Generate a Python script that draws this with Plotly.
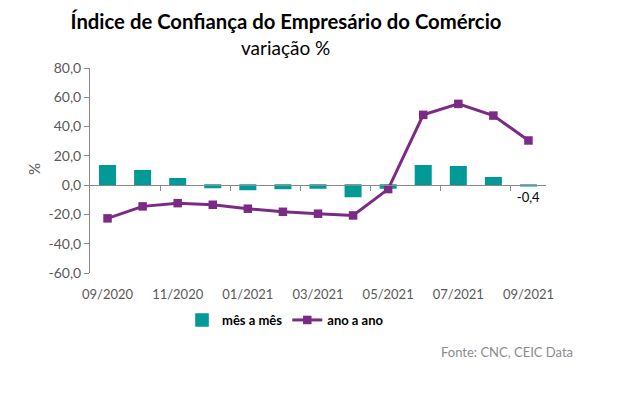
import plotly.graph_objects as go

categories = ["09/2020", "10/2020", "11/2020", "12/2020", "01/2021", "02/2021", "03/2021",
              "04/2021", "05/2021", "06/2021", "07/2021", "08/2021", "09/2021"]
mes_a_mes = [13.2, 9.8, 4.3, -1.6, -3.0, -2.3, -2.0, -7.7, -2.0, 13.2, 12.5, 5.0, -0.4]
ano_a_ano = [-22.7, -14.5, -12.3, -13.4, -16.1, -18.2, -19.5, -20.7, -2.7, 48.0, 55.5, 47.5, 30.5]
bar_labels = ["", "", "", "", "", "", "", "", "", "", "", "", "-0,4"]
y_ticks = [-60, -40, -20, 0, 20, 40, 60, 80]
y_ticktext = ["-60,0", "-40,0", "-20,0", "0,0", "20,0", "40,0", "60,0", "80,0"]

idx = list(range(len(categories)))
FONT = "Lato"
TEAL = "#019A96"
PURPLE = "#7B2B85"
GRAY = "#898989"
LABEL = "#595959"

# the page body adds an 8px offset; compensate so that the plot lands where intended
OFF = 8
PL, PR, PT, PB = 90 - OFF, 546 - OFF, 68 - OFF, 273 - OFF  # plot area in page pixels
W, H = 641, 399
PW, PH = PR - PL, PB - PT


def px(xp):
    return (xp - OFF - PL) / PW


def py(yp):
    return (PB - (yp - OFF)) / PH


fig = go.Figure()
fig.add_trace(go.Bar(
    x=idx, y=mes_a_mes, name="mês a mês", width=0.44,
    marker=dict(color=TEAL, line=dict(color=TEAL, width=1.6)),
    text=bar_labels, textposition="outside", cliponaxis=False, constraintext="none",
    textfont=dict(family=FONT, size=13, color="black"),
))
fig.add_trace(go.Scatter(
    x=idx, y=ano_a_ano, name="ano a ano", mode="lines+markers",
    line=dict(color=PURPLE, width=3),
    marker=dict(symbol="square", size=8.5, color=PURPLE),
))
# helper (invisible) trace so the zero-crossing axis is drawn
fig.add_trace(go.Scatter(x=idx, y=[None] * len(idx), xaxis="x2", showlegend=False,
                         hoverinfo="skip", mode="lines"))

fig.update_layout(
    width=W, height=H,
    margin=dict(l=PL, r=W - PR, t=PT, b=H - PB),
    paper_bgcolor="white", plot_bgcolor="white",
    font=dict(family=FONT, size=13, color=LABEL),
    title=dict(text="<b>Índice de Confiança do Empresário do Comércio</b>",
               x=(286 - OFF) / W, xanchor="center", xref="container",
               y=1 - (22 - OFF) / H, yanchor="middle", yref="container",
               font=dict(family=FONT, size=20.3, color="black")),
    xaxis=dict(range=[-0.5, 12.5], tickmode="array", tickvals=idx[::2],
               ticktext=categories[::2], showline=False, showgrid=False, zeroline=False,
               ticks="outside", ticklen=9, tickcolor="rgba(0,0,0,0)",
               tickfont=dict(family=FONT, size=13, color=LABEL)),
    xaxis2=dict(range=[-0.5, 12.5], overlaying="x", anchor="free", position=60 / 140,
                showline=True, linecolor=GRAY, linewidth=1, showgrid=False, zeroline=False,
                tickmode="array", tickvals=[1.5, 3.5, 5.5, 7.5, 9.5, 11.5],
                ticks="outside", ticklen=5, tickcolor=GRAY, showticklabels=False),
    yaxis=dict(range=[-60, 80], tickmode="array", tickvals=y_ticks, ticktext=y_ticktext,
               showline=True, linecolor=GRAY, linewidth=1, showgrid=False, zeroline=False,
               ticks="outside", ticklen=5, tickcolor=GRAY,
               tickfont=dict(family=FONT, size=14, color=LABEL)),
    legend=dict(orientation="h", x=px(182), y=py(320),
                xanchor="left", yanchor="middle", itemwidth=30,
                font=dict(family=FONT, size=13, color="black", weight="bold"),
                bgcolor="rgba(0,0,0,0)"),
    showlegend=True,
    annotations=[
        dict(text="variação %", xref="paper", yref="paper",
             x=px(285), y=py(48), xanchor="center", yanchor="middle",
             showarrow=False, font=dict(family=FONT, size=19, color="black")),
        dict(text="%", xref="paper", yref="paper", textangle=-90,
             x=px(34), y=py(169), xanchor="center", yanchor="middle",
             showarrow=False, font=dict(family=FONT, size=15, color=LABEL)),
        dict(text="Fonte: CNC, CEIC Data", xref="paper", yref="paper",
             x=px(575), y=py(352), xanchor="right", yanchor="middle",
             showarrow=False, font=dict(family=FONT, size=13, color="#8C8C8C")),
    ],
)

fig.write_html("out.html")
